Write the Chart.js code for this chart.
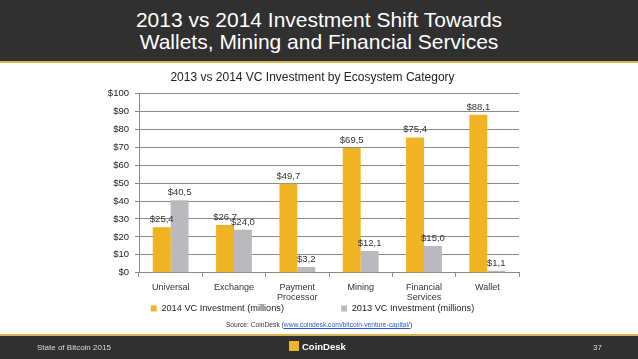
<!DOCTYPE html>
<html>
<head>
<meta charset="utf-8">
<script src="https://cdn.jsdelivr.net/npm/chart.js@4/dist/chart.umd.min.js"></script>
<style>
  body { margin: 0; width: 638px; height: 359px; background: #fff; overflow: hidden; position: relative; font-family: "Liberation Sans", Arial, sans-serif; }
  #header { position: absolute; left: 0; top: 0; width: 638px; height: 63px; background: #303030; border-bottom: 2px solid #d8b552; color: #fff; text-align: center; font-size: 21px; line-height: 22px; padding-top: 9px; box-sizing: border-box; }
  #chartBox { position: absolute; left: 106px; top: 64px; width: 414px; height: 259px; }
  #source { position: absolute; left: 0; width: 638px; top: 321px; text-align: center; font-size: 6.7px; color: #333; }
  #source a { color: #2a5bd7; text-decoration: underline; }
  #footer { position: absolute; left: 0; top: 334px; width: 638px; height: 25px; background: #303030; border-top: 2px solid #d8b552; box-sizing: border-box; color: #ddd; font-size: 8px; }
  #footer .left { position: absolute; left: 37px; top: 7px; }
  #footer .mid { position: absolute; left: 289px; top: 5px; color: #fff; font-weight: bold; font-size: 9.5px; }
  #footer .mid span.icon { display: inline-block; width: 10px; height: 10px; background: #f0b323; vertical-align: -1px; margin-right: 3px; }
  #footer .right { position: absolute; left: 593px; top: 7px; }
</style>
</head>
<body>
<div id="header">2013 vs 2014 Investment Shift Towards<br>Wallets, Mining and Financial Services</div>
<div id="chartBox"><canvas id="chart" width="414" height="259"></canvas></div>
<div id="source">Source: CoinDesk (<a>www.coindesk.com/bitcoin-venture-capital/</a>)</div>
<div id="footer">
  <div class="left">State of Bitcoin 2015</div>
  <div class="mid"><span class="icon"></span>CoinDesk</div>
  <div class="right">37</div>
</div>
<script>
// Data
const categories = ["Universal", "Exchange", ["Payment", "Processor"], "Mining", ["Financial", "Services"], "Wallet"];
const invest2014 = [25.4, 26.7, 49.7, 69.5, 75.4, 88.1];
const invest2013 = [40.5, 24.0, 3.2, 12.1, 15.0, 1.1];
const yTicks = [0, 10, 20, 30, 40, 50, 60, 70, 80, 90, 100];

const fmt = v => "$" + v.toFixed(1).replace(".", ",");
const FONT = "'Liberation Sans', Arial, sans-serif";

// value labels above each bar
const valueLabels = {
    id: "valueLabels",
    afterDatasetsDraw(chart) {
        const ctx = chart.ctx;
        ctx.save();
        ctx.font = "9.5px " + FONT;
        ctx.fillStyle = "#333";
        ctx.textAlign = "center";
        ctx.textBaseline = "bottom";
        chart.data.datasets.forEach((ds, i) => {
            chart.getDatasetMeta(i).data.forEach((bar, j) => {
                ctx.fillText(fmt(ds.data[j]), bar.x, bar.y - 3);
            });
        });
        ctx.restore();
    }
};

// gap between the two legend entries (legend padding would also grow the height)
const legendGap = "\u2002".repeat(12);

new Chart(document.getElementById("chart"), {
    type: "bar",
    data: {
        labels: categories,
        datasets: [
            { label: "2014 VC Investment (millions)", data: invest2014, backgroundColor: "#f0b323" },
            { label: "2013 VC Investment (millions)", data: invest2013, backgroundColor: "#b9b9bf" }
        ]
    },
    options: {
        responsive: false,
        animation: false,
        devicePixelRatio: 1,
        datasets: { bar: { categoryPercentage: 0.566, barPercentage: 1 } },
        layout: { padding: { left: 0, right: 1, top: 0, bottom: 0 } },
        plugins: {
            title: {
                display: true,
                text: "2013 vs 2014 VC Investment by Ecosystem Category",
                color: "#222",
                font: { size: 12, weight: "normal", family: FONT },
                padding: { top: 6, bottom: 9 }
            },
            legend: {
                position: "bottom",
                labels: {
                    boxWidth: 6, boxHeight: 6, padding: 2,
                    color: "#222",
                    font: { size: 9.2, family: FONT },
                    generateLabels: chart => chart.data.datasets.map((ds, i) => ({
                        text: ds.label + (i === 0 ? legendGap : ""),
                        fillStyle: ds.backgroundColor,
                        strokeStyle: ds.backgroundColor,
                        lineWidth: 0,
                        datasetIndex: i,
                        fontColor: "#222"
                    }))
                }
            },
            tooltip: { enabled: false }
        },
        scales: {
            x: {
                afterFit: s => { s.height = 29; },
                grid: { display: true, drawOnChartArea: false, tickLength: 4, color: "#888" },
                border: { color: "#888" },
                ticks: { color: "#333", font: { size: 9, family: FONT }, padding: 5, maxRotation: 0 }
            },
            y: {
                min: 0, max: 100,
                afterFit: s => { s.width = 33; },
                afterBuildTicks: s => { s.ticks = yTicks.map(v => ({ value: v })); },
                grid: { color: "#8a8a8a", drawTicks: true, tickLength: 4 },
                border: { color: "#888" },
                ticks: { color: "#222", font: { size: 9.5, family: FONT }, padding: 6, callback: v => "$" + v }
            }
        }
    },
    plugins: [valueLabels]
});
</script>
</body>
</html>
